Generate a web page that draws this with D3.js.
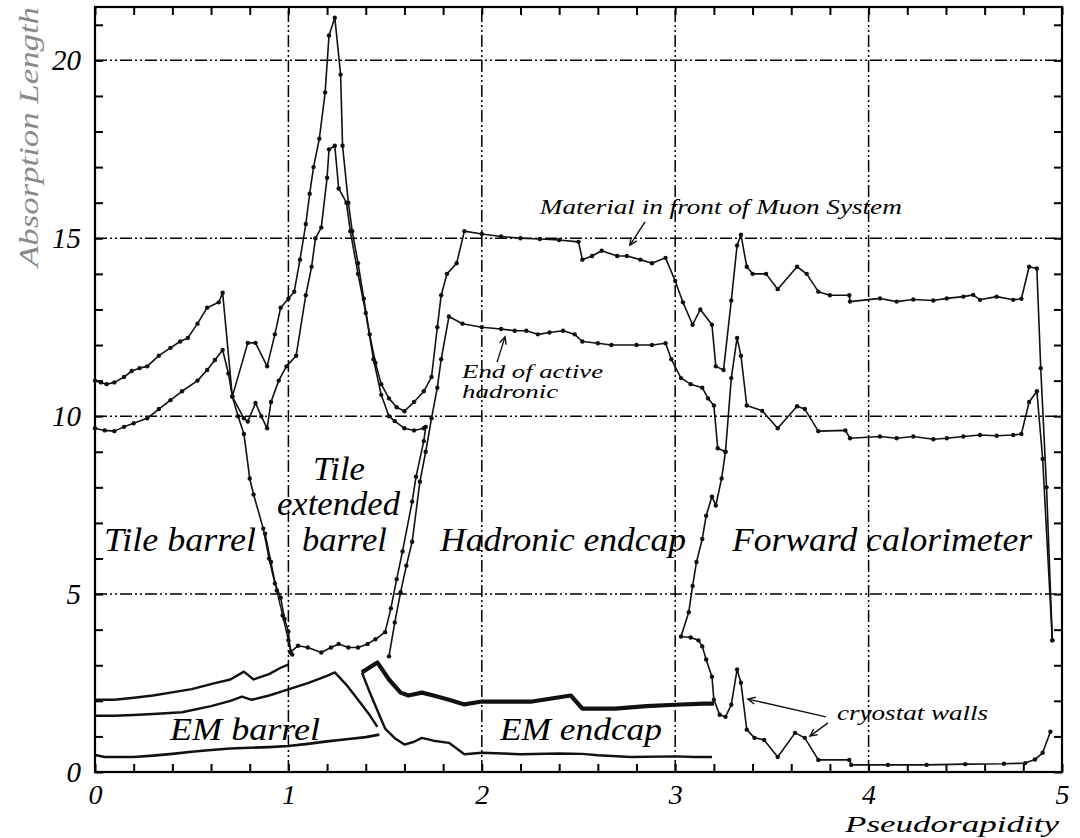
<!DOCTYPE html>
<html>
<head>
<meta charset="utf-8">
<script src="https://cdn.jsdelivr.net/npm/d3@7"></script>
<style>
  body { margin: 0; background: #fff; }
  svg { display: block; }
  text { font-family: "Liberation Serif", "Times New Roman", serif; font-style: italic; fill: #000; }
</style>
</head>
<body>
<svg id="chart" width="1080" height="838"></svg>
<script>
// Cumulative absorption length versus pseudorapidity, [eta, lambda] pairs.

// Total material in front of the muon system
const muonFront = [
  [0,11.0],[0.03,10.95],[0.06,10.9],[0.1,10.95],[0.15,11.1],[0.19,11.27],[0.23,11.35],[0.27,11.4],
  [0.33,11.7],[0.39,11.92],[0.44,12.1],[0.48,12.2],[0.53,12.6],[0.58,13.05],[0.64,13.2],[0.66,13.47],
  [0.71,10.55],[0.79,12.06],[0.83,12.06],[0.89,11.4],[0.93,12.3],[0.96,13.05],[1.0,13.3],[1.03,13.5],
  [1.06,14.4],[1.09,15.4],[1.11,16.25],[1.13,17.0],[1.16,17.8],[1.19,19.1],[1.21,20.7],[1.24,21.2],
  [1.27,19.6],[1.28,17.6],[1.31,16.0],[1.33,15.2],[1.36,14.3],[1.39,13.3],[1.42,12.3],[1.45,11.5],
  [1.48,10.9],[1.52,10.5],[1.56,10.25],[1.6,10.14],[1.65,10.4],[1.7,10.7],[1.74,11.1],[1.77,12.5],
  [1.79,13.4],[1.82,14.0],[1.87,14.3],[1.91,15.2],[2.0,15.12],[2.1,15.05],[2.2,15.0],[2.3,14.98],
  [2.4,14.95],[2.5,14.9],[2.52,14.4],[2.57,14.5],[2.62,14.65],[2.7,14.5],[2.75,14.5],[2.82,14.4],
  [2.88,14.3],[2.95,14.45],[3.0,13.8],[3.04,13.2],[3.09,12.57],[3.13,13.0],[3.19,12.57],[3.21,11.4],
  [3.25,11.3],[3.29,13.25],[3.32,14.8],[3.34,15.1],[3.37,14.2],[3.4,14.0],[3.47,14.0],[3.53,13.57],
  [3.63,14.2],[3.68,14.0],[3.74,13.5],[3.8,13.4],[3.9,13.4],[3.904,13.22],[4.059,13.31],[4.145,13.22],
  [4.231,13.28],[4.335,13.25],[4.404,13.31],[4.49,13.36],[4.541,13.41],[4.576,13.27],[4.662,13.36],
  [4.748,13.27],[4.79,13.3],[4.83,14.2],[4.87,14.15],[4.89,11.35],[4.92,8.0],[4.95,3.7]
];

// End of active hadronic calorimetry, tile region
const hadronicTile = [
  [0,9.66],[0.05,9.6],[0.1,9.58],[0.15,9.7],[0.2,9.8],[0.27,9.94],[0.33,10.2],[0.39,10.45],
  [0.45,10.7],[0.53,11.0],[0.58,11.3],[0.62,11.58],[0.66,11.86],[0.69,11.2],[0.71,10.55],[0.77,9.94],
  [0.79,9.85],[0.83,10.37],[0.86,10.0],[0.89,9.66],[0.91,10.4],[0.95,11.0],[0.99,11.4],[1.04,11.7],
  [1.09,13.4],[1.12,14.2],[1.14,15.0],[1.17,15.3],[1.2,16.7],[1.21,17.5],[1.24,17.6],[1.26,16.4],
  [1.3,16.0],[1.32,15.2],[1.36,14.0],[1.4,12.9],[1.44,11.6],[1.48,10.6],[1.52,10.0],[1.55,9.86],
  [1.6,9.66],[1.65,9.6],[1.7,9.66]
];

// End of active hadronic calorimetry, endcap and forward region
const hadronicEndcap = [
  [1.52,3.25],[1.55,4.2],[1.58,5.05],[1.61,5.8],[1.64,6.47],[1.68,8.16],[1.71,9.0],[1.74,9.94],
  [1.77,10.8],[1.79,11.6],[1.83,12.8],[1.9,12.6],[2.0,12.5],[2.1,12.45],[2.17,12.4],[2.23,12.4],
  [2.29,12.3],[2.35,12.35],[2.42,12.4],[2.48,12.3],[2.52,12.1],[2.6,12.05],[2.67,12.0],[2.8,12.0],
  [2.88,12.0],[2.95,12.05],[2.98,11.6],[3.03,11.07],[3.08,10.9],[3.14,10.8],[3.17,10.5],[3.2,10.3],
  [3.22,9.1],[3.26,9.0],[3.29,11.07],[3.32,12.2],[3.34,11.7],[3.37,10.3],[3.45,10.15],[3.53,9.66],
  [3.63,10.28],[3.67,10.2],[3.74,9.58],[3.88,9.6],[3.904,9.38],[4.059,9.43],[4.145,9.38],[4.231,9.43],
  [4.335,9.35],[4.404,9.38],[4.49,9.43],[4.576,9.47],[4.662,9.45],[4.748,9.47],[4.79,9.5],
  [4.83,10.4],[4.87,10.7],[4.9,8.8],[4.95,3.7]
];

// Edge of the tile barrel, then front of the tile extended barrel
const tileEdge = [
  [0.71,10.55],[0.74,10.0],[0.77,9.5],[0.8,8.25],[0.82,7.8],[0.87,6.84],[0.9,6.0],[0.93,5.3],
  [0.96,4.9],[0.98,4.3],[1.0,3.95],[1.01,3.36],[1.05,3.55],[1.1,3.5],[1.17,3.36],[1.22,3.5],
  [1.26,3.6],[1.31,3.5],[1.36,3.5],[1.41,3.6],[1.45,3.73],[1.5,3.93],[1.53,4.6],[1.56,5.42],
  [1.59,6.2],[1.64,7.6],[1.66,8.3],[1.7,9.3],[1.71,9.7]
];
const tileEdgeInner = [
  [0.88,6.7],[0.91,5.9],[0.94,5.1],[0.97,4.4],[1.0,3.7],[1.02,3.3]
];

// Front of the forward calorimeter and the cryostat walls
const forwardFront = [
  [3.26,9.0],[3.24,8.25],[3.21,7.49],[3.19,7.74],[3.16,7.2],[3.14,6.55],[3.11,5.9],[3.09,5.23],
  [3.07,4.49],[3.03,3.81],[3.08,3.78],[3.12,3.7],[3.14,3.53],[3.16,3.16],[3.19,2.68],[3.2,2.03],
  [3.23,1.61],[3.26,1.55],[3.29,1.89],[3.32,2.88],[3.34,2.51],[3.37,1.19],[3.41,0.96],[3.46,0.9],
  [3.53,0.42],[3.62,1.1],[3.67,0.96],[3.74,0.34],[3.9,0.34],[3.91,0.2],[4.1,0.2],[4.3,0.2],
  [4.5,0.22],[4.7,0.23],[4.81,0.25],[4.86,0.35],[4.9,0.54],[4.94,1.13]
];

// Front of the tile barrel
const tileFront = [
  [0,2.03],[0.1,2.03],[0.19,2.08],[0.3,2.15],[0.39,2.23],[0.5,2.33],[0.62,2.5],[0.7,2.6],
  [0.77,2.82],[0.82,2.6],[0.9,2.75],[0.96,2.93],[1.0,3.02]
];

// Back of the EM barrel
const emBarrelBack = [
  [0,1.58],[0.1,1.58],[0.2,1.6],[0.3,1.63],[0.45,1.68],[0.6,1.85],[0.7,2.0],[0.76,2.12],
  [0.81,2.03],[0.9,2.15],[1.0,2.32],[1.1,2.5],[1.2,2.7],[1.24,2.8],[1.3,2.45],[1.36,2.03],
  [1.42,1.6],[1.46,1.27]
];

// Front of the EM barrel
const emBarrelFront = [
  [0,0.48],[0.05,0.42],[0.2,0.42],[0.3,0.46],[0.4,0.51],[0.5,0.57],[0.6,0.62],[0.7,0.66],
  [0.8,0.68],[0.9,0.7],[1.0,0.73],[1.1,0.79],[1.2,0.86],[1.3,0.92],[1.4,0.98],[1.47,1.05]
];

// Front and back of the EM endcap
const emEndcapFront = [
  [1.38,2.8],[1.42,2.25],[1.47,1.6],[1.5,1.22],[1.55,0.95],[1.6,0.77],[1.65,0.85],[1.69,0.96],
  [1.75,0.88],[1.83,0.82],[1.91,0.5],[2.0,0.54],[2.2,0.5],[2.4,0.52],[2.52,0.51],[2.6,0.47],
  [2.77,0.42],[3.0,0.44],[3.1,0.42],[3.19,0.42]
];
const emEndcapBack = [
  [1.38,2.8],[1.46,3.08],[1.52,2.6],[1.58,2.23],[1.62,2.15],[1.69,2.23],[1.75,2.15],[1.83,2.03],
  [1.91,1.9],[2.0,1.98],[2.26,1.98],[2.46,2.15],[2.52,1.78],[2.69,1.78],[2.85,1.85],[3.0,1.89],
  [3.15,1.92],[3.2,1.92]
];

const xTicks = [0, 1, 2, 3, 4, 5];
const yTicks = [0, 5, 10, 15, 20];
const xTitle = "Pseudorapidity";
const yTitle = "Absorption Length";

const svg = d3.select("#chart");
const x = d3.scaleLinear().domain([0, 5]).range([95, 1062]);
const y = d3.scaleLinear().domain([0, 21.5]).range([772, 7]);

// grid
const gridDash = "12,3,2,3,2,3";
svg.append("g").selectAll("line").data([5, 10, 15, 20]).join("line")
  .attr("x1", x(0)).attr("x2", x(5)).attr("y1", d => y(d)).attr("y2", d => y(d))
  .attr("stroke", "#000").attr("stroke-width", 1.5).attr("stroke-dasharray", gridDash);
svg.append("g").selectAll("line").data([1, 2, 3, 4]).join("line")
  .attr("y1", y(0)).attr("y2", y(21.5)).attr("x1", d => x(d)).attr("x2", d => x(d))
  .attr("stroke", "#000").attr("stroke-width", 1.5).attr("stroke-dasharray", gridDash);

// minor ticks on all four sides
const xMinor = d3.range(0, 5.001, 0.2);
const yMinor = d3.range(0, 21.5, 1);
function tickAxis(axis, transform) {
  const g = svg.append("g").attr("transform", transform).call(axis);
  g.select(".domain").remove();
  g.selectAll(".tick line").attr("stroke", "#000").attr("stroke-width", 2);
  return g;
}
tickAxis(d3.axisBottom(x).tickValues(xMinor).tickSize(-8).tickFormat(""), `translate(0,${y(0)})`);
tickAxis(d3.axisTop(x).tickValues(xMinor).tickSize(-8).tickFormat(""), `translate(0,${y(21.5)})`);
tickAxis(d3.axisLeft(y).tickValues(yMinor).tickSize(-8).tickFormat(""), `translate(${x(0)},0)`);
tickAxis(d3.axisRight(y).tickValues(yMinor).tickSize(-8).tickFormat(""), `translate(${x(5)},0)`);

// frame
svg.append("rect")
  .attr("x", x(0)).attr("y", y(21.5))
  .attr("width", x(5) - x(0)).attr("height", y(0) - y(21.5))
  .attr("fill", "none").attr("stroke", "#000").attr("stroke-width", 2.2);

// tick labels
const xl = svg.append("g").attr("transform", `translate(0,${y(0)})`)
  .call(d3.axisBottom(x).tickValues(xTicks).tickSize(0).tickPadding(12).tickFormat(d3.format("d")));
xl.select(".domain").remove();
xl.selectAll("text").attr("font-size", 28).attr("dy", "0.71em")
  .style("font-family", '"Liberation Serif", serif').style("font-style", "italic");
const yl = svg.append("g").attr("transform", `translate(${x(0)},0)`)
  .call(d3.axisLeft(y).tickValues(yTicks).tickSize(0).tickPadding(14).tickFormat(d3.format("d")));
yl.select(".domain").remove();
yl.selectAll("text").attr("font-size", 29)
  .style("font-family", '"Liberation Serif", serif').style("font-style", "italic");

// axis titles
svg.append("text").text(xTitle)
  .attr("x", 845).attr("y", 832).attr("font-size", 24)
  .attr("textLength", 214).attr("lengthAdjust", "spacingAndGlyphs");
svg.append("text").text(yTitle)
  .attr("transform", "translate(38,267) rotate(-90)")
  .attr("font-size", 28).attr("textLength", 260).attr("lengthAdjust", "spacingAndGlyphs")
  .style("fill", "#8a8a8a");

// curves
const line = d3.line().x(d => x(d[0])).y(d => y(d[1]));
const curves = [
  { data: emBarrelFront, w: 2.6, dots: false },
  { data: emBarrelBack, w: 2.4, dots: false },
  { data: tileFront, w: 2.4, dots: false },
  { data: emEndcapFront, w: 2.4, dots: false },
  { data: emEndcapBack, w: 4.2, dots: false },
  { data: tileEdge, w: 1.6, dots: true },
  { data: tileEdgeInner, w: 1.4, dots: true },
  { data: forwardFront, w: 1.6, dots: true },
  { data: hadronicTile, w: 1.6, dots: true },
  { data: hadronicEndcap, w: 1.6, dots: true },
  { data: muonFront, w: 1.6, dots: true }
];
const cg = svg.append("g");
curves.forEach(c => {
  cg.append("path").datum(c.data).attr("d", line)
    .attr("fill", "none").attr("stroke", "#111").attr("stroke-width", c.w)
    .attr("stroke-linejoin", "round");
  if (c.dots) {
    cg.append("g").selectAll("circle").data(c.data).join("circle")
      .attr("cx", d => x(d[0])).attr("cy", d => y(d[1])).attr("r", 2.2).attr("fill", "#111");
  }
});

// region labels
const regionLabels = [
  { t: "Tile barrel", eta: 0.047, v: 6.21, len: 152, fs: 34 },
  { t: "Tile", eta: 1.127, v: 8.21, len: 52, fs: 34 },
  { t: "extended", eta: 0.941, v: 7.22, len: 123, fs: 34 },
  { t: "barrel", eta: 1.07, v: 6.21, len: 85, fs: 34 },
  { t: "Hadronic endcap", eta: 1.784, v: 6.21, len: 246, fs: 34 },
  { t: "Forward calorimeter", eta: 3.294, v: 6.21, len: 300, fs: 34 },
  { t: "EM barrel", eta: 0.388, v: 0.9, len: 150, fs: 32 },
  { t: "EM endcap", eta: 2.094, v: 0.9, len: 162, fs: 32 },
  { t: "Material in front of Muon System", eta: 2.3, v: 15.68, len: 362, fs: 21 },
  { t: "End of active", eta: 1.898, v: 11.07, len: 141, fs: 18 },
  { t: "hadronic", eta: 1.898, v: 10.5, len: 96, fs: 18 },
  { t: "cryostat walls", eta: 3.837, v: 1.46, len: 151, fs: 21 }
];
svg.append("g").selectAll("text").data(regionLabels).join("text")
  .attr("x", d => x(d.eta)).attr("y", d => y(d.v))
  .attr("font-size", d => d.fs)
  .attr("textLength", d => d.len).attr("lengthAdjust", "spacingAndGlyphs")
  .text(d => d.t);

// annotation arrows: [from, to] in data units, head at "to"
const arrows = [
  [[2.844, 15.46], [2.766, 14.81]],
  [[2.079, 11.52], [2.12, 12.23]],
  [[3.78, 1.55], [3.376, 2.05]],
  [[3.79, 1.38], [3.697, 1.01]]
];
const ag = svg.append("g").attr("stroke", "#111").attr("stroke-width", 1.4).attr("fill", "none");
arrows.forEach(([a, b]) => {
  const x1 = x(a[0]), y1 = y(a[1]), x2 = x(b[0]), y2 = y(b[1]);
  ag.append("line").attr("x1", x1).attr("y1", y1).attr("x2", x2).attr("y2", y2);
  const ang = Math.atan2(y2 - y1, x2 - x1), L = 8, s = 0.45;
  ag.append("path").attr("d",
    `M${x2 - L * Math.cos(ang - s)},${y2 - L * Math.sin(ang - s)}L${x2},${y2}L${x2 - L * Math.cos(ang + s)},${y2 - L * Math.sin(ang + s)}`);
});
</script>
</body>
</html>
